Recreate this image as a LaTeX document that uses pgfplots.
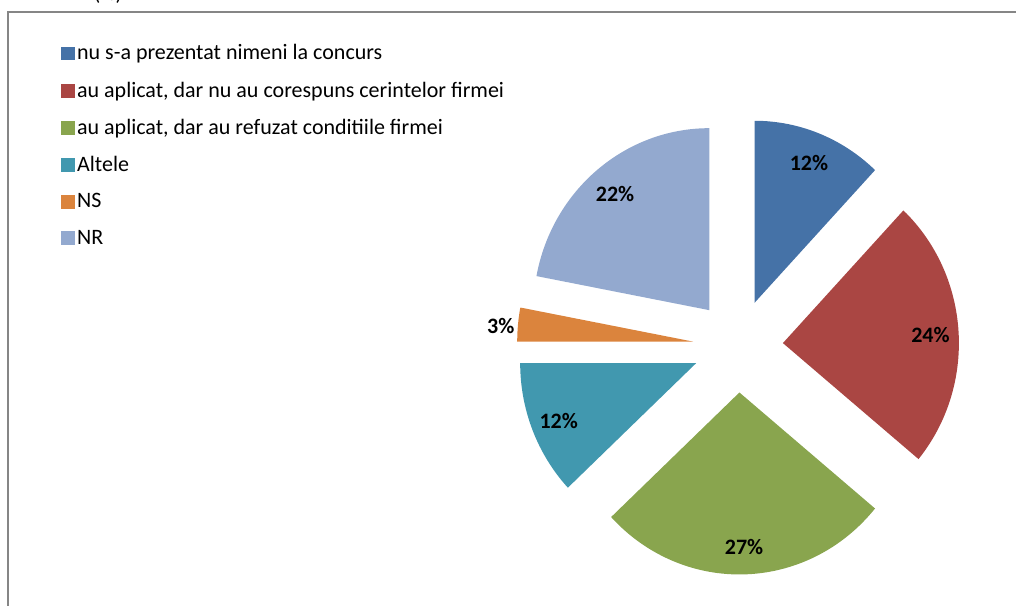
\documentclass[border=0pt]{standalone}
\usepackage{pgfplots}
\pgfplotsset{compat=1.18}
\usepackage{pgfplotstable}
\usepackage{fontspec}
\setmainfont{Carlito}

\definecolor{c1}{HTML}{4572A7}
\definecolor{c2}{HTML}{AA4643}
\definecolor{c3}{HTML}{89A54E}
\definecolor{c4}{HTML}{4198AF}
\definecolor{c5}{HTML}{DB843D}
\definecolor{c6}{HTML}{93A9CF}
\definecolor{framegray}{HTML}{868686}

% share in %, colour, label inside the slice (1) or beside it (0)
\pgfplotstableread{
value colour inside
12 c1 1
24 c2 1
27 c3 1
12 c4 1
3  c5 0
22 c6 1
}\piedata

% pie geometry in pixels of the picture: centre, radii, explode offset
\def\cx{738}\def\cy{346}
\def\rx{176}\def\ry{182}
\def\ex{45}\def\ey{46.5}
\pgfmathsetmacro\Rx{\rx*0.75}
\pgfmathsetmacro\Ry{\ry*0.75}

\begin{document}
\begin{tikzpicture}[
  pct/.style={font=\fontsize{16.5}{19}\selectfont\bfseries, inner sep=1pt}]
\begin{axis}[
  x=0.75pt, y=0.75pt,
  xmin=0, xmax=1016, ymin=0, ymax=606,
  y dir=reverse,
  hide axis, clip=false,
  legend style={draw=none, fill=none, at={(axis cs:57,39)}, anchor=north west,
    font=\fontsize{16.5}{19}\selectfont, row sep=11pt,
    /tikz/every even column/.append style={column sep=3pt}},
  legend cell align=left,
]
\coordinate (BL) at (axis cs:0,606);
\coordinate (TR) at (axis cs:1016,0);

\def\acc{0}
\pgfplotstablegetrowsof{\piedata}
\pgfmathtruncatemacro\last{\pgfplotsretval-1}
\pgfplotsforeachungrouped \i in {0,...,\last}{%
  \pgfplotstablegetelem{\i}{value}\of\piedata \let\val\pgfplotsretval
  \pgfplotstablegetelem{\i}{colour}\of\piedata \let\col\pgfplotsretval
  \pgfplotstablegetelem{\i}{inside}\of\piedata \let\ins\pgfplotsretval
  \pgfmathsetmacro\ta{90-3.6*\acc}
  \pgfmathsetmacro\tb{90-3.6*(\acc+\val)}
  \pgfmathsetmacro\tm{(\ta+\tb)/2}
  \pgfmathsetmacro\ax{\cx+\ex*cos(\tm)}
  \pgfmathsetmacro\ay{\cy-\ey*sin(\tm)}
  \edef\temp{\noexpand\fill[\col] (axis cs:\ax,\ay) -- ++(\ta:\Rx pt and \Ry pt)
    arc[start angle=\ta, end angle=\tb, x radius=\Rx pt, y radius=\Ry pt] -- cycle;}%
  \temp
  \ifnum\ins=1
    \pgfmathsetmacro\lx{\ax+0.84*\rx*cos(\tm)}
    \pgfmathsetmacro\ly{\ay-0.84*\ry*sin(\tm)+2}
    \edef\temp{\noexpand\node[pct] at (axis cs:\lx,\ly) {\val\noexpand\%};}%
  \else
    \pgfmathsetmacro\lx{\ax+\rx*cos(\tm)-2}
    \pgfmathsetmacro\ly{\ay-\ry*sin(\tm)+2}
    \edef\temp{\noexpand\node[pct, anchor=east] at (axis cs:\lx,\ly) {\val\noexpand\%};}%
  \fi
  \temp
  \pgfmathsetmacro\acc{\acc+\val}
}

\addlegendimage{legend image code/.code={\fill[c1] (0pt,-4.75pt) rectangle (9.5pt,4.75pt);}}
\addlegendentry{nu s-a prezentat nimeni la concurs}
\addlegendimage{legend image code/.code={\fill[c2] (0pt,-4.75pt) rectangle (9.5pt,4.75pt);}}
\addlegendentry{au aplicat, dar nu au corespuns cerintelor firmei}
\addlegendimage{legend image code/.code={\fill[c3] (0pt,-4.75pt) rectangle (9.5pt,4.75pt);}}
\addlegendentry{au aplicat, dar au refuzat conditiile firmei}
\addlegendimage{legend image code/.code={\fill[c4] (0pt,-4.75pt) rectangle (9.5pt,4.75pt);}}
\addlegendentry{Altele}
\addlegendimage{legend image code/.code={\fill[c5] (0pt,-4.75pt) rectangle (9.5pt,4.75pt);}}
\addlegendentry{NS}
\addlegendimage{legend image code/.code={\fill[c6] (0pt,-4.75pt) rectangle (9.5pt,4.75pt);}}
\addlegendentry{NR}

% chart frame (right and bottom sides lie outside the picture)
\draw[framegray, line width=1.5pt] (axis cs:8,640) -- (axis cs:8,12.5) -- (axis cs:1040,12.5);
\node[font=\fontsize{16}{19}\selectfont, anchor=base] at (axis cs:108,0.5) {(\%)};
\end{axis}
\pgfresetboundingbox
\path[use as bounding box] (BL) rectangle (TR);
\end{tikzpicture}
\end{document}
